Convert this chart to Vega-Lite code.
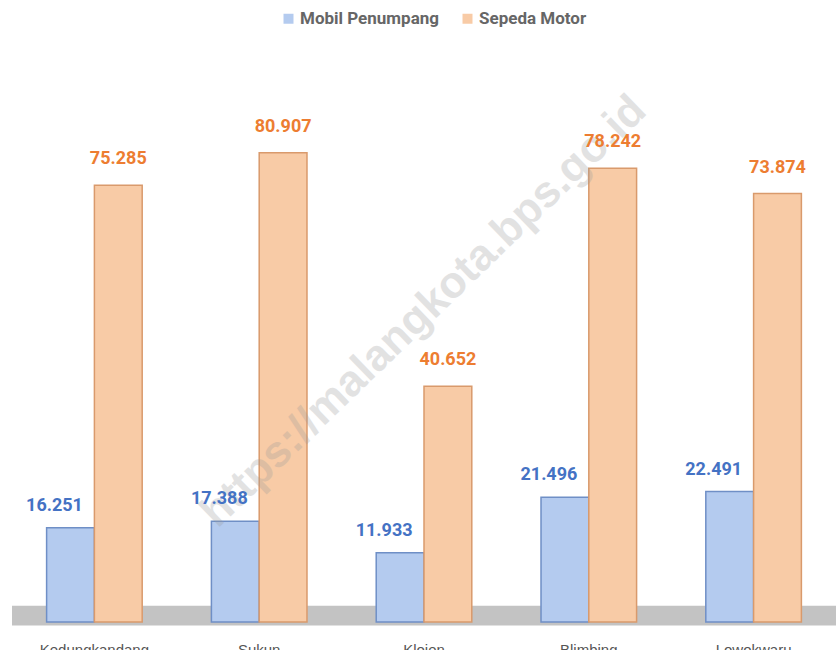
{
  "$schema": "https://vega.github.io/schema/vega-lite/v6.json",
  "autosize": {"type": "none"},
  "width": 824,
  "height": 580,
  "padding": {"left": 12, "top": 42, "right": 0, "bottom": 28},
  "background": "white",
  "config": {"view": {"stroke": null}, "font": "Roboto"},
  "data": {"values": [
    {"kecamatan": "Kedungkandang", "jenis": "Mobil Penumpang", "nilai": 16.251, "label": "16.251"},
    {"kecamatan": "Kedungkandang", "jenis": "Sepeda Motor", "nilai": 75.285, "label": "75.285"},
    {"kecamatan": "Sukun", "jenis": "Mobil Penumpang", "nilai": 17.388, "label": "17.388"},
    {"kecamatan": "Sukun", "jenis": "Sepeda Motor", "nilai": 80.907, "label": "80.907"},
    {"kecamatan": "Klojen", "jenis": "Mobil Penumpang", "nilai": 11.933, "label": "11.933"},
    {"kecamatan": "Klojen", "jenis": "Sepeda Motor", "nilai": 40.652, "label": "40.652"},
    {"kecamatan": "Blimbing", "jenis": "Mobil Penumpang", "nilai": 21.496, "label": "21.496"},
    {"kecamatan": "Blimbing", "jenis": "Sepeda Motor", "nilai": 78.242, "label": "78.242"},
    {"kecamatan": "Lowokwaru", "jenis": "Mobil Penumpang", "nilai": 22.491, "label": "22.491"},
    {"kecamatan": "Lowokwaru", "jenis": "Sepeda Motor", "nilai": 73.874, "label": "73.874"}
  ]},
  "layer": [
    {
      "data": {"values": [{"bawah": -0.6, "atas": 2.8}]},
      "mark": {"type": "rect", "color": "#c3c3c3"},
      "encoding": {
        "y": {"field": "bawah", "type": "quantitative", "scale": {"domain": [0, 100]}, "axis": null},
        "y2": {"field": "atas"}
      }
    },
    {
      "mark": {"type": "bar", "strokeWidth": 1.5},
      "encoding": {
        "x": {"field": "kecamatan", "type": "nominal", "sort": null,
          "scale": {"paddingInner": 0.42, "paddingOuter": 0.21},
          "axis": {"title": null, "domain": false, "ticks": false, "labelAngle": 0, "labelPadding": 20,
            "labelFontSize": 15, "labelColor": "#555555", "labelFont": "Liberation Sans"}},
        "xOffset": {"field": "jenis", "type": "nominal", "scale": {"paddingInner": 0, "paddingOuter": 0}},
        "y": {"field": "nilai", "type": "quantitative", "scale": {"domain": [0, 100]}, "axis": null},
        "fill": {"field": "jenis", "type": "nominal",
          "scale": {"domain": ["Mobil Penumpang", "Sepeda Motor"], "range": ["#b4cbef", "#f8cba6"]},
          "legend": {"title": null, "orient": "none", "direction": "horizontal", "legendX": 268, "legendY": -32,
            "symbolType": "square", "symbolSize": 100, "symbolStrokeWidth": 0, "columnPadding": 20, "labelOffset": 3,
            "labelFontSize": 17, "labelFontWeight": "bold", "labelColor": "#666666", "labelFont": "Roboto",
            "encode": {"symbols": {"update": {"fill": {"signal": "datum.value == 'Mobil Penumpang' ? '#5f87d2' : '#f08d4a'"}}}}}},
        "stroke": {"field": "jenis", "type": "nominal",
          "scale": {"domain": ["Mobil Penumpang", "Sepeda Motor"], "range": ["#6f8fc6", "#d99a6c"]},
          "legend": null}
      }
    },
    {
      "data": {"values": [{"kecamatan": "Klojen", "posisi": 53.5, "teks": "https://malangkota.bps.go.id"}]},
      "mark": {"type": "text", "angle": -44, "fontSize": 44, "fontWeight": "bold", "font": "Liberation Sans", "opacity": 0.28},
      "encoding": {
        "x": {"field": "kecamatan", "type": "nominal", "sort": null},
        "y": {"field": "posisi", "type": "quantitative"},
        "text": {"field": "teks"},
        "color": {"value": "#9a9a9a"}
      }
    },
    {
      "transform": [{"filter": "datum.jenis == 'Mobil Penumpang'"}],
      "mark": {"type": "text", "dy": -22, "dx": -16, "fontSize": 18, "fontWeight": "bold", "font": "Roboto", "color": "#4472c4"},
      "encoding": {
        "x": {"field": "kecamatan", "type": "nominal", "sort": null},
        "xOffset": {"field": "jenis", "type": "nominal"},
        "y": {"field": "nilai", "type": "quantitative"},
        "text": {"field": "label"}
      }
    },
    {
      "transform": [{"filter": "datum.jenis == 'Sepeda Motor'"}],
      "mark": {"type": "text", "dy": -26, "fontSize": 18, "fontWeight": "bold", "font": "Roboto", "color": "#ed7d31"},
      "encoding": {
        "x": {"field": "kecamatan", "type": "nominal", "sort": null},
        "xOffset": {"field": "jenis", "type": "nominal"},
        "y": {"field": "nilai", "type": "quantitative"},
        "text": {"field": "label"}
      }
    }
  ]
}
